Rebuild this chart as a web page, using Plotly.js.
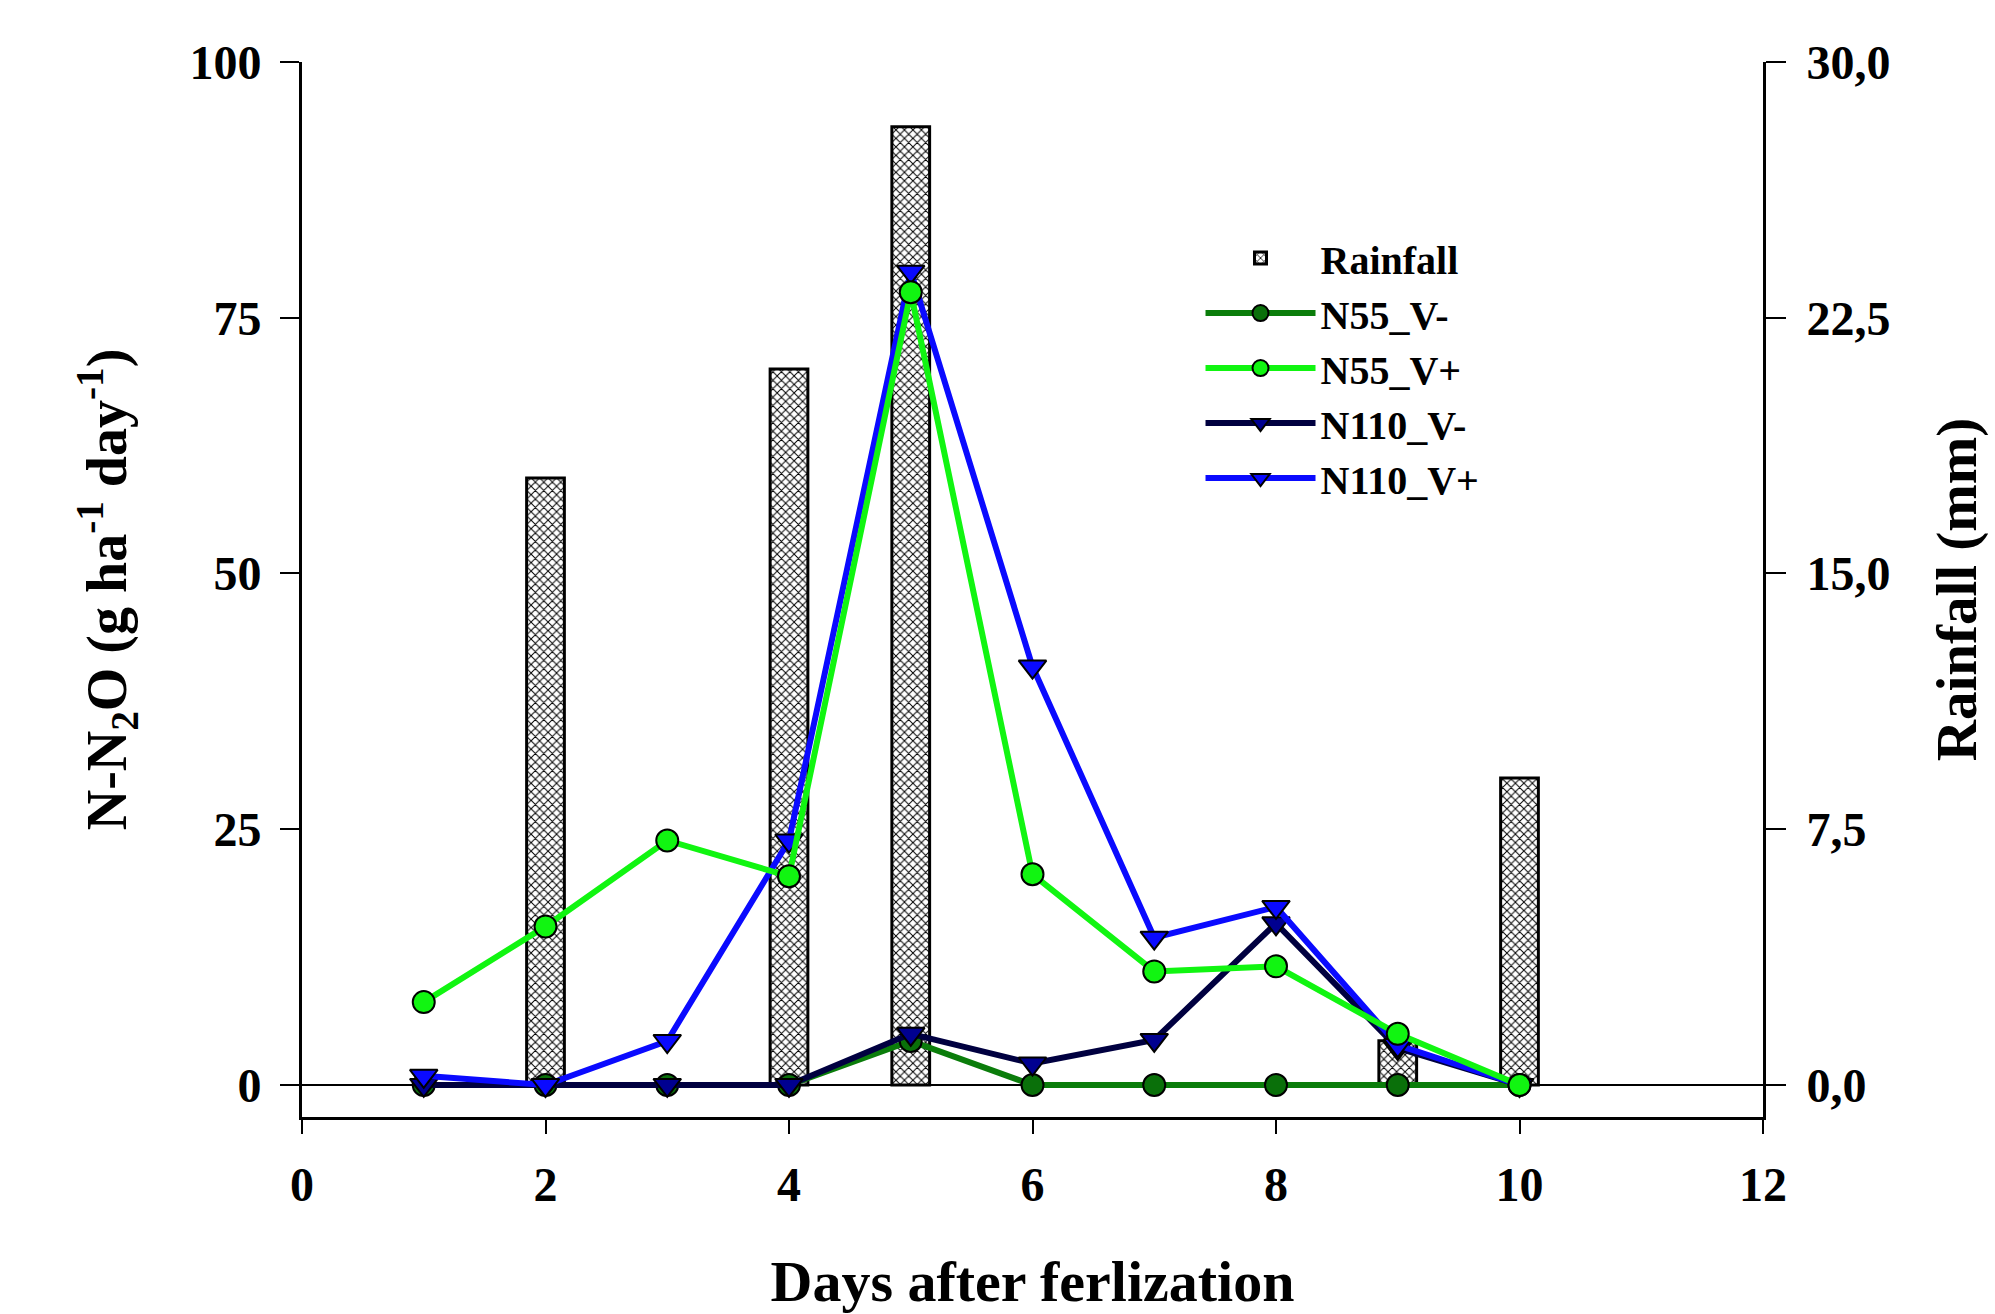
<!DOCTYPE html>
<html>
<head>
<meta charset="utf-8">
<script src="https://cdn.plot.ly/plotly-3.0.1.min.js"></script>
<style>html,body{margin:0;padding:0;background:#fff;}#chart{width:1995px;height:1314px;}</style>
</head>
<body>
<div id="chart"></div>
<script>
// Data
const days = [1, 2, 3, 4, 5, 6, 7, 8, 9, 10];
const rainDays = [2, 4, 5, 9, 10];
const rainfall = [17.8, 21.0, 28.1, 1.3, 9.0];
const n55Vminus = [0, 0, 0, 0, 4.3, 0, 0, 0, 0, 0];
const n55Vplus = [8.1, 15.5, 23.9, 20.4, 77.5, 20.6, 11.1, 11.6, 5.0, 0];
const n110Vminus = [0, 0, 0, 0, 5.0, 2.1, 4.4, 15.8, 3.6, 0];
const n110Vplus = [0.9, 0, 4.3, 23.9, 79.5, 40.9, 14.4, 17.4, 3.9, 0];
const leftTicks = [0, 25, 50, 75, 100];
const xTicks = [0, 2, 4, 6, 8, 10, 12];

const FONT = '"Liberation Serif", "Times New Roman", serif';

const traces = [
  {
    type: 'bar', name: 'Rainfall', x: rainDays, y: rainfall, yaxis: 'y', width: 0.31,
    marker: {color: 'white', line: {color: 'black', width: 3},
      pattern: {shape: 'x', size: 6, solidity: 0.3, fgcolor: 'black', bgcolor: 'white'}},
    legendrank: 1
  },
  {
    type: 'scatter', mode: 'lines+markers', name: 'N55_V-', x: days, y: n55Vminus, yaxis: 'y2',
    line: {color: '#0b7d0b', width: 6},
    marker: {symbol: 'circle', size: 22, color: '#0a700a', line: {color: 'black', width: 2}},
    legendrank: 2
  },
  {
    type: 'scatter', mode: 'lines+markers', name: 'N110_V-', x: days, y: n110Vminus, yaxis: 'y2',
    line: {color: '#000040', width: 6},
    marker: {symbol: 'triangle-down', size: 24, color: '#000090', line: {color: 'black', width: 2}},
    legendrank: 4
  },
  {
    type: 'scatter', mode: 'lines+markers', name: 'N110_V+', x: days, y: n110Vplus, yaxis: 'y2',
    line: {color: '#0a0aff', width: 6},
    marker: {symbol: 'triangle-down', size: 24, color: '#0a0aff', line: {color: 'black', width: 2}},
    legendrank: 5
  },
  {
    type: 'scatter', mode: 'lines+markers', name: 'N55_V+', x: days, y: n55Vplus, yaxis: 'y2',
    line: {color: '#11f511', width: 6},
    marker: {symbol: 'circle', size: 22, color: '#11f511', line: {color: 'black', width: 2}},
    legendrank: 3
  }
];

const layout = {
  width: 1995, height: 1314,
  margin: {l: 301.5, r: 231.5, t: 62, b: 197},
  paper_bgcolor: 'white', plot_bgcolor: 'white',
  separators: ',.',
  font: {family: FONT, size: 48, color: 'black', weight: 'bold'},
  showlegend: true,
  legend: {
    x: 0.615, y: 0.845, xanchor: 'left', yanchor: 'top',
    font: {family: FONT, size: 40, color: 'black', weight: 'bold'},
    bgcolor: 'rgba(0,0,0,0)', itemwidth: 110, tracegroupgap: 0
  },
  xaxis: {
    range: [0, 12], tickvals: xTicks, showline: true, linecolor: 'black', linewidth: 3,
    ticks: 'outside', ticklen: 14, tickwidth: 2, tickcolor: 'black', showgrid: false, zeroline: false,
    ticklabelstandoff: 9,
    tickfont: {family: FONT, size: 48, color: 'black', weight: 'bold'},
    title: {text: 'Days after ferlization', standoff: 53, font: {family: FONT, size: 58, color: 'black', weight: 'bold'}}
  },
  yaxis: {
    range: [-0.939, 30], side: 'right', anchor: 'x', tick0: 0, dtick: 7.5, tickformat: '.1f',
    showline: true, linecolor: 'black', linewidth: 3, ticks: 'outside', ticklen: 20, tickwidth: 2,
    tickcolor: 'black', showgrid: false, zeroline: true, zerolinecolor: 'black', zerolinewidth: 2,
    ticklabelstandoff: 11,
    tickfont: {family: FONT, size: 48, color: 'black', weight: 'bold'},
    title: {text: 'Rainfall (mm)', standoff: 47, font: {family: FONT, size: 57, color: 'black', weight: 'bold'}}
  },
  yaxis2: {
    range: [-3.13, 100], side: 'left', overlaying: 'y', anchor: 'x', tickvals: leftTicks,
    showline: true, linecolor: 'black', linewidth: 3, ticks: 'outside', ticklen: 19, tickwidth: 2,
    tickcolor: 'black', showgrid: false, zeroline: false,
    ticklabelstandoff: 9,
    tickfont: {family: FONT, size: 48, color: 'black', weight: 'bold'},
    title: {text: 'N-N<sub>2</sub>O (g ha<sup>-1</sup> day<sup>-1</sup>)', standoff: 45,
      font: {family: FONT, size: 56, color: 'black', weight: 'bold'}}
  }
};

Plotly.newPlot('chart', traces, layout, {displayModeBar: false, staticPlot: true});
</script>
</body>
</html>
